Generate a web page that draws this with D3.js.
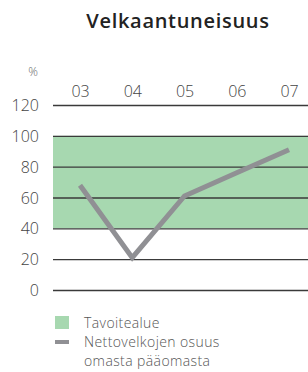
<!DOCTYPE html>
<html>
<head>
<meta charset="utf-8">
<script src="https://cdn.jsdelivr.net/npm/d3@7"></script>
<style>
  body { margin: 0; background: #fff; }
  svg text { font-family: "Open Sans", sans-serif; }
</style>
</head>
<body>
<div id="chart"></div>
<script>
// data
const years = ['03', '04', '05', '06', '07'];
const netDebtShare = [68, 21, 61, 76, 91];
const yTicks = [0, 20, 40, 60, 80, 100, 120];
const targetRange = [40, 100];
const legendLabels = ['Tavoitealue', ['Nettovelkojen osuus', 'omasta pääomasta']];

const width = 308, height = 372;
const margin = {top: 105, right: 0, bottom: 82, left: 53};

const svg = d3.select('#chart').append('svg')
    .attr('width', width).attr('height', height);

svg.append('text')
    .attr('x', 178).attr('y', 28)
    .attr('text-anchor', 'middle')
    .style('font-size', '20px').style('font-weight', 600).style('fill', '#222')
    .style('letter-spacing', '0.7px')
    .text('Velkaantuneisuus');

const x = d3.scalePoint().domain(years).range([80, 289]);
const y = d3.scaleLinear().domain([0, 120]).range([290, 105]);

// target band
svg.append('rect')
    .attr('x', margin.left).attr('width', width - margin.left)
    .attr('y', y(targetRange[1])).attr('height', y(targetRange[0]) - y(targetRange[1]))
    .style('fill', '#a7d8b0');

// grid lines + y axis labels
const yAxis = svg.append('g')
    .attr('transform', `translate(${margin.left},0)`)
    .call(d3.axisLeft(y).tickValues(yTicks).tickSize(-(width - margin.left)).tickPadding(14));
yAxis.select('.domain').remove();
yAxis.selectAll('.tick line').style('stroke', '#3a3a3a').style('stroke-width', 1.3);
yAxis.selectAll('.tick text')
    .style('font-size', '16px').style('font-weight', 300).style('fill', '#444')
    .attr('dy', '0.35em');

// x axis labels on top
const xAxis = svg.append('g')
    .attr('transform', 'translate(0,97)')
    .call(d3.axisTop(x).tickSize(0).tickPadding(0));
xAxis.select('.domain').remove();
xAxis.selectAll('.tick text')
    .style('font-size', '16px').style('font-weight', 300).style('fill', '#444');

svg.append('text')
    .attr('x', 33).attr('y', 76).attr('text-anchor', 'middle')
    .style('font-size', '12px').style('font-weight', 300).style('fill', '#666')
    .text('%');

// line
const line = d3.line().x((d, i) => x(years[i])).y(d => y(d));
svg.append('path')
    .datum(netDebtShare)
    .attr('d', line)
    .style('fill', 'none').style('stroke', '#909094')
    .style('stroke-width', 5).style('stroke-linejoin', 'miter');

// legend
const lg = svg.append('g').style('font-size', '14px').style('font-weight', 300).style('fill', '#555')
    .style('letter-spacing', '0.4px');
lg.append('rect').attr('x', 55).attr('y', 316).attr('width', 14).attr('height', 13).style('fill', '#a7d8b0');
lg.append('text').attr('x', 84).attr('y', 327.5).text(legendLabels[0]);
lg.append('rect').attr('x', 55).attr('y', 340).attr('width', 14).attr('height', 4).style('fill', '#909094');
const lt = lg.append('text').attr('x', 84).attr('y', 347);
lt.selectAll('tspan').data(legendLabels[1]).join('tspan')
    .attr('x', 84).attr('dy', (d, i) => i ? 19.4 : 0)
    .text(d => d);
</script>
</body>
</html>
